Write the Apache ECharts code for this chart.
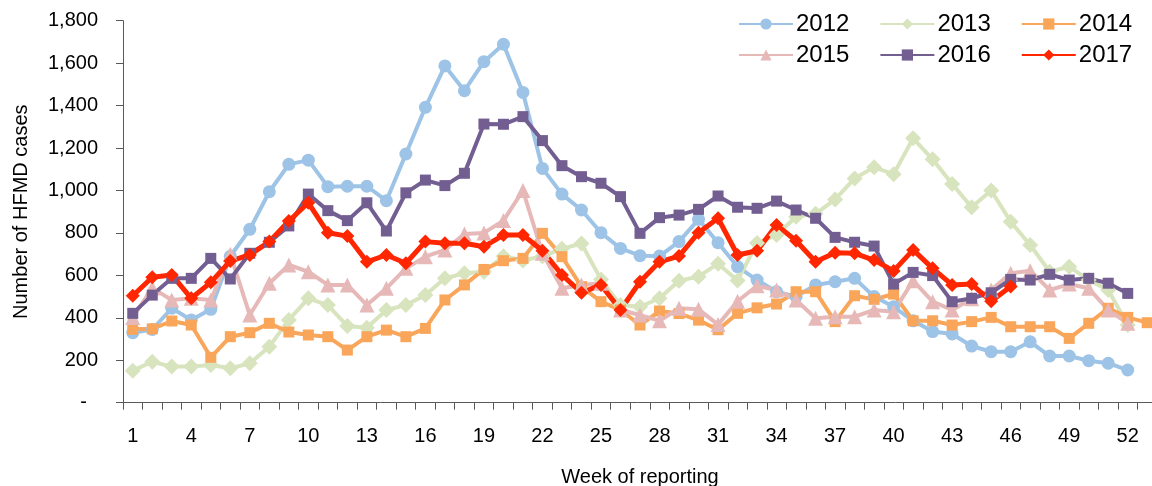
<!DOCTYPE html>
<html>
<head>
<meta charset="utf-8">
<script src="https://cdn.jsdelivr.net/npm/echarts@6/dist/echarts.min.js"></script>
<style>
html,body{margin:0;padding:0;background:#fff;}
#chart{width:1152px;height:486px;}
</style>
</head>
<body>
<div id="chart"></div>
<script>
var weeks = [];
for (var w = 1; w <= 53; w++) weeks.push(String(w));

var y2012 = [330,345,445,390,440,690,817,994,1123,1143,1018,1020,1020,952,1172,1392,1587,1470,1607,1689,1462,1104,983,908,801,727,693,691,759,864,754,641,578,523,500,555,570,586,500,452,386,335,324,267,240,240,287,220,220,198,186,154];
var y2013 = [151,193,170,170,178,162,186,264,390,492,460,361,353,437,460,507,586,610,617,690,670,690,725,750,580,460,452,492,575,594,655,576,752,790,876,890,958,1057,1109,1077,1246,1147,1031,921,1000,853,743,617,641,578,531,366];
var y2014 = [346,348,385,366,214,311,330,374,333,319,311,248,311,342,311,350,484,555,628,669,680,798,688,547,476,437,366,432,420,389,344,421,447,465,523,523,382,504,487,512,386,386,366,382,402,358,358,358,303,374,445,402,377];
var y2015 = [402,540,484,492,484,700,413,563,649,617,555,555,460,539,633,688,720,795,800,858,1000,704,539,555,563,437,413,386,445,440,368,478,551,531,484,398,405,405,437,429,575,476,437,490,531,610,622,531,559,539,437,374];
var y2016 = [421,507,586,586,680,583,704,756,833,983,905,858,942,809,989,1049,1023,1081,1313,1312,1348,1235,1117,1065,1034,971,798,872,884,911,974,921,916,950,908,869,779,756,738,559,614,599,476,492,518,581,578,605,578,586,563,515];
var y2017 = [504,591,602,492,567,668,696,759,856,942,801,785,664,696,657,759,751,751,735,790,790,716,602,518,555,437,570,664,691,801,869,696,716,837,763,664,707,704,672,621,720,633,555,559,478,547];

var FONT = '"Liberation Sans", Arial, sans-serif';

function mk(name, data, color, symbol, size, lw) {
  return {
    name: name, type: 'line', data: data,
    symbol: symbol, symbolSize: size,
    showSymbol: true, showAllSymbol: true,
    lineStyle: {color: color, width: lw},
    itemStyle: {color: color},
    emphasis: {disabled: true},
    animation: false
  };
}

var legendBase = {left: 738, width: 420, padding: 0, itemWidth: 54, itemHeight: 14, itemGap: 30,
  textStyle: {fontSize: 24, color: '#000', fontFamily: FONT, padding: [0, 0, 0, -2]}};

var chart = echarts.init(document.getElementById('chart'), null, {renderer: 'canvas'});
chart.setOption({
  animation: false,
  backgroundColor: '#ffffff',
  textStyle: {fontFamily: FONT},
  grid: {left: 123, right: -5, top: 20.7, bottom: 83.3, containLabel: false, outerBoundsMode: 'none'},
  legend: [
    Object.assign({}, legendBase, {data: ['2012', '2013', '2014'], top: 12}),
    Object.assign({}, legendBase, {data: ['2015', '2016', '2017'], top: 43})
  ],
  xAxis: {
    type: 'category', data: weeks, boundaryGap: true,
    name: 'Week of reporting', nameLocation: 'middle', nameGap: 65,
    nameTextStyle: {fontSize: 20, color: '#000', fontFamily: FONT},
    axisLine: {lineStyle: {color: '#595959', width: 1}},
    axisTick: {show: true, interval: 0, length: 7, lineStyle: {color: '#595959'}},
    axisLabel: {interval: 2, fontSize: 20, color: '#000', margin: 24, fontFamily: FONT}
  },
  yAxis: {
    type: 'value', min: 0, max: 1800, interval: 200,
    name: 'Number of HFMD cases', nameLocation: 'middle', nameRotate: 90, nameGap: 92,
    nameTextStyle: {fontSize: 20, color: '#000', fontFamily: FONT},
    axisLine: {show: true, lineStyle: {color: '#595959', width: 1}},
    axisTick: {show: true, length: 7, lineStyle: {color: '#595959'}},
    splitLine: {show: false},
    axisLabel: {fontSize: 20, color: '#000', margin: 25, fontFamily: FONT,
      formatter: function (v) { return v === 0 ? '-\u00a0\u00a0' : v.toLocaleString('en-US'); }}
  },
  series: [
    mk('2012', y2012, '#9DC3E6', 'circle', 13, 4),
    mk('2013', y2013, '#D7E4BD', 'diamond', 16, 4),
    mk('2014', y2014, '#F9A65A', 'rect', 11, 4),
    mk('2015', y2015, '#E6B9B8', 'triangle', 15, 4),
    mk('2016', y2016, '#735E92', 'rect', 11, 4),
    mk('2017', y2017, '#FF2600', 'diamond', 14, 5)
  ]
});
</script>
</body>
</html>
